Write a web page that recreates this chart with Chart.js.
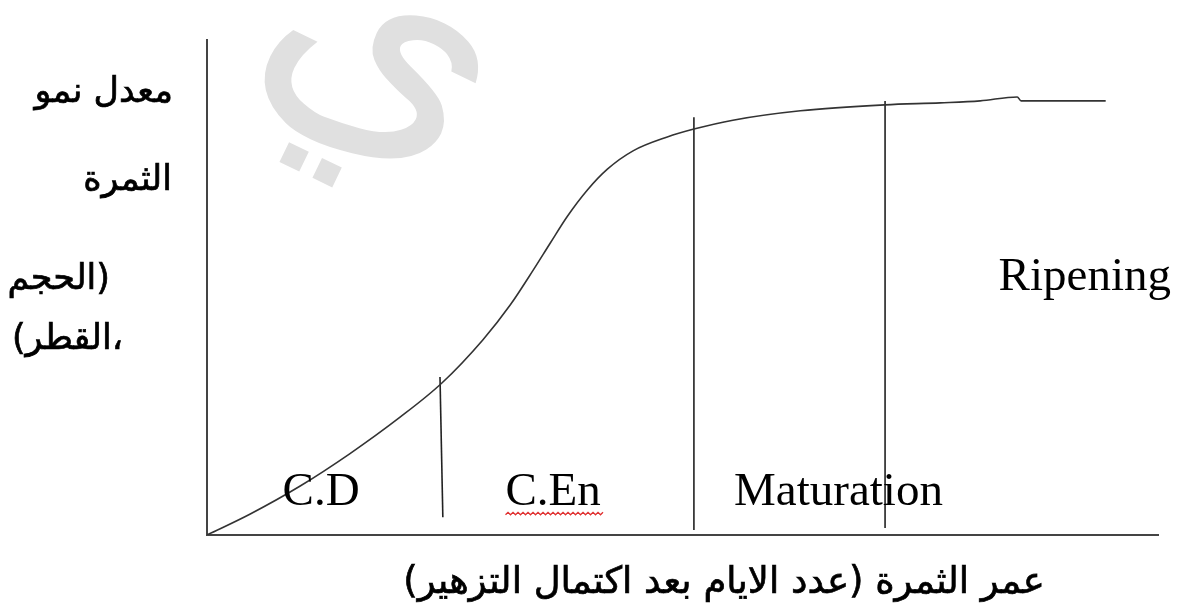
<!DOCTYPE html>
<html>
<head>
<meta charset="utf-8">
<script src="https://cdn.jsdelivr.net/npm/chart.js@4.4.1/dist/chart.umd.min.js"></script>
<style>
  html, body { margin: 0; padding: 0; background: #fff; }
</style>
</head>
<body>
<canvas id="growthChart" width="1183" height="612"></canvas>
<script>
// fruit growth curve (age vs size, arbitrary 0-100 units)
const ageDays = [0, 4.5, 9.8, 15.0, 20.3, 24.7, 29.0, 31.9, 34.3, 36.1, 37.9, 40.0, 42.1, 44.8, 48.4, 51.2, 55.3, 62.4, 71.3, 77.1, 81.3, 85.2, 85.6, 94.5];
const fruitSize = [0, 4.2, 9.9, 16.4, 23.8, 30.7, 39.4, 46.5, 53.5, 59.0, 64.4, 69.7, 73.9, 77.6, 80.4, 82.0, 83.8, 85.7, 86.9, 87.3, 87.7, 88.5, 87.7, 87.7];

// stage boundaries (vertical strokes)
const boundaryTopAge = [24.5, 51.2, 71.3];
const boundaryBottomAge = [24.8, 51.2, 71.3];
const boundaryTop = [31.9, 84.4, 87.7];
const boundaryBottom = [3.6, 1.0, 1.4];

// stage names
const phaseNames = ["C.D", "C.En", "Maturation", "Ripening"];
const phaseAge = [12.0, 36.4, 66.4, 92.3];
const phaseLevel = [6.1, 6.1, 6.1, 49.5];

// axis titles
const yTitleLines = ["معدل نمو", "الثمرة", "(الحجم", "،القطر)"];
const xTitle = "عمر الثمرة (عدد الايام بعد اكتمال التزهير)";


const curveData = ageDays.map((a, i) => ({ x: a, y: fruitSize[i] }));

const boundarySets = boundaryTopAge.map((a, i) => ({
    data: [
        { x: a, y: boundaryTop[i] },
        { x: boundaryBottomAge[i], y: boundaryBottom[i] }
    ],
    borderColor: "#222",
    borderWidth: 1.6,
    pointRadius: 0,
    tension: 0
}));

const watermark = {
    id: "watermark",
    beforeDatasetsDraw(chart) {
        const ctx = chart.ctx;
        ctx.save();
        ctx.translate(385, 45);
        ctx.rotate(0.45);
        ctx.fillStyle = "#e0e0e0";
        ctx.font = "300px 'DejaVu Sans'";
        ctx.textAlign = "center";
        ctx.textBaseline = "middle";
        ctx.fillText("ي", 0, 0);
        ctx.restore();
    }
};

function heavyText(ctx, t, x, y) {
    ctx.fillText(t, x, y);
    ctx.strokeText(t, x, y);
}

const labels = {
    id: "labels",
    afterDraw(chart) {
        const ctx = chart.ctx;
        const xs = chart.scales.x;
        const ys = chart.scales.y;
        ctx.save();

        ctx.fillStyle = "#000";
        ctx.font = "47px 'Liberation Serif'";
        ctx.textAlign = "center";
        ctx.textBaseline = "alphabetic";
        phaseNames.forEach((name, i) => {
            const px = xs.getPixelForValue(phaseAge[i]);
            const py = ys.getPixelForValue(phaseLevel[i]);
            ctx.fillText(name, px, py);

            // spell-check squiggle under C.En
            if (name === "C.En") {
                const w = ctx.measureText(name).width;
                let sx = px - w / 2;
                const sy = py + 10;
                ctx.strokeStyle = "#e03030";
                ctx.lineWidth = 1.3;
                ctx.beginPath();
                ctx.moveTo(sx, sy);
                let up = true;
                while (sx < px + w / 2) {
                    sx += 2.5;
                    ctx.lineTo(sx, up ? sy - 2.5 : sy);
                    up = !up;
                }
                ctx.stroke();
            }
        });

        // y title, right aligned left of the axis
        ctx.direction = "rtl";
        ctx.strokeStyle = "#000";
        ctx.lineWidth = 0.7;
        ctx.font = "35px 'DejaVu Sans'";
        ctx.textAlign = "right";
        ctx.textBaseline = "middle";
        const rightEdges = [173, 172, 110, 123];
        const rows = [93, 181, 280, 340];
        yTitleLines.forEach((t, i) => heavyText(ctx, t, rightEdges[i], rows[i]));

        ctx.textAlign = "center";
        ctx.font = "37px 'DejaVu Sans'";
        heavyText(ctx, xTitle, 724, 583);
        ctx.restore();
    }
};

new Chart(document.getElementById("growthChart"), {
    type: "line",
    data: {
        datasets: [
            {
                data: curveData,
                borderColor: "#333",
                borderWidth: 1.6,
                pointRadius: 0,
                cubicInterpolationMode: "monotone"
            },
            ...boundarySets
        ]
    },
    options: {
        responsive: false,
        animation: false,
        layout: { padding: { left: 207, top: 40, right: 25, bottom: 77 } },
        plugins: { legend: { display: false }, tooltip: { enabled: false } },
        scales: {
            x: {
                type: "linear",
                min: 0,
                max: 100,
                grid: { display: false, drawTicks: false },
                ticks: { display: false },
                border: { color: "#444", width: 2 }
            },
            y: {
                min: 0,
                max: 100,
                grid: { display: false, drawTicks: false },
                ticks: { display: false },
                border: { color: "#444", width: 2 }
            }
        }
    },
    plugins: [watermark, labels]
});
</script>
</body>
</html>
